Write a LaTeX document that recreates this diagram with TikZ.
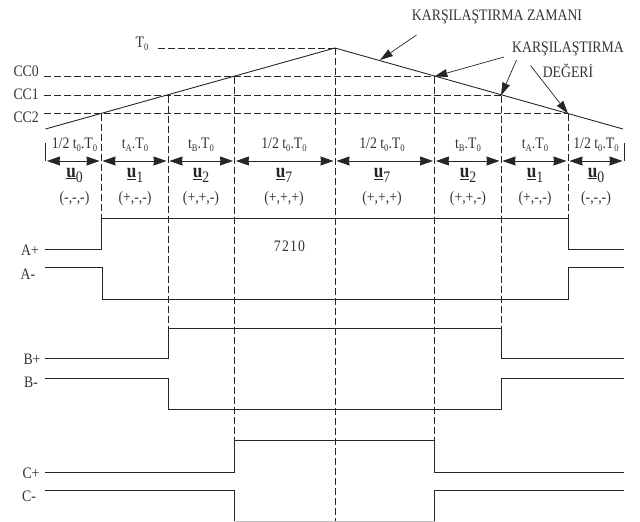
\documentclass[tikz,border=0pt]{standalone}
\usepackage{fontspec}
\setmainfont[FakeStretch=.86]{Liberation Serif}
\usetikzlibrary{arrows.meta}
\newcommand{\lowsub}[1]{\raisebox{-.45ex}{\fontsize{10}{10}\selectfont #1}}
\newcommand{\uvec}[1]{\underline{\textbf{u}}\raisebox{-5pt}{\fontsize{16}{16}\selectfont #1}}
\tikzstyle{lab} = [inner sep=0pt, font=\fontsize{16}{16}\selectfont, text=black!80]
\tikzstyle{dur} = [inner sep=0pt, font=\fontsize{16}{16}\selectfont, text=black!80]
\tikzstyle{vec} = [inner sep=0pt, font=\fontsize{20}{20}\selectfont, text=black!85, node distance=30pt]
\tikzstyle{sgn} = [inner sep=0pt, font=\fontsize{16}{16}\selectfont, text=black!80, node distance=24pt]
\tikzstyle{guide} = [black!85, line width=.7pt, dash pattern=on 7pt off 3pt]
\tikzstyle{wave} = [black!85, line width=.9pt]
\tikzstyle{spanline} = [black!85, line width=.9pt, shorten <=1.5pt, shorten >=1.5pt, {Stealth[length=13pt,width=9pt,inset=.5pt]}-{Stealth[length=13pt,width=9pt,inset=.5pt]}]
\tikzstyle{pointer} = [black!85, line width=.7pt, -{Stealth[length=13pt,width=8pt,inset=.5pt]}]
\begin{document}
\begin{tikzpicture}[x=1pt, y=-1pt]
  \useasboundingbox (0,0) rectangle (640,522);
  % triangle
  \coordinate (s) at (45.5,129);
  \coordinate (top) at (335,48);
  \coordinate (e) at (623,129);
  \coordinate (r2) at (101,113.5);
  \coordinate (r1) at (168,95.5);
  \coordinate (r0) at (234.5,76.5);
  \coordinate (f0) at (434.5,76.5);
  \coordinate (f1) at (501,95.5);
  \coordinate (f2) at (568,113.5);
  \draw[wave] (s)--(top)--(e);
  % levels
  \node (t0)[lab] at (142,44){T\lowsub{0}};
  \node (cc0)[lab, anchor=east] at (39,71){CC0};
  \node (cc1)[lab, anchor=east] at (39,94){CC1};
  \node (cc2)[lab, anchor=east] at (39,117){CC2};
  \coordinate (t0l) at (158,48);
  \coordinate (cc0l) at (44,76.5);
  \coordinate (cc1l) at (44,95.5);
  \coordinate (cc2l) at (44,113.5);
  \draw[guide] (t0l)--(top);
  \draw[guide] (cc0l)--(f0);
  \draw[guide] (cc1l)--(f1);
  \draw[guide] (cc2l)--(f2);
  % verticals
  \coordinate (a1) at (101,218);
  \coordinate (a2) at (568,218);
  \coordinate (b1) at (168,328);
  \coordinate (b2) at (501,328);
  \coordinate (c1) at (234.5,440.5);
  \coordinate (c2) at (434.5,440.5);
  \coordinate (m) at (335,522);
  \draw[guide] (r2)--(a1);
  \draw[guide] (r1)--(b1);
  \draw[guide] (r0)--(c1);
  \draw[guide] (top)--(m);
  \draw[guide] (f0)--(c2);
  \draw[guide] (f1)--(b2);
  \draw[guide] (f2)--(a2);
  % spans
  \coordinate (d0) at (45.5,161);
  \coordinate (d1) at (101,161);
  \coordinate (d2) at (168,161);
  \coordinate (d3) at (234.5,161);
  \coordinate (d4) at (335,161);
  \coordinate (d5) at (434.5,161);
  \coordinate (d6) at (501,161);
  \coordinate (d7) at (568,161);
  \coordinate (d8) at (624,161);
  \coordinate (tl) at (45.5,143);
  \coordinate (tr) at (624,143);
  \draw[black!85] (tl)--(d0);
  \draw[black!85] (tr)--(d8);
  \draw[spanline] (d0)--(d1);
  \draw[spanline] (d1)--(d2);
  \draw[spanline] (d2)--(d3);
  \draw[spanline] (d3)--(d4);
  \draw[spanline] (d4)--(d5);
  \draw[spanline] (d5)--(d6);
  \draw[spanline] (d6)--(d7);
  \draw[spanline] (d7)--(d8);
  % sectors
  \node (l1)[dur] at (74.5,145){1/2 t\lowsub{0}.T\lowsub{0}};
  \node (l2)[dur] at (135,145){t\lowsub{A}.T\lowsub{0}};
  \node (l3)[dur] at (201,145){t\lowsub{B}.T\lowsub{0}};
  \node (l4)[dur] at (284,145){1/2 t\lowsub{0}.T\lowsub{0}};
  \node (l5)[dur] at (382,145){1/2 t\lowsub{0}.T\lowsub{0}};
  \node (l6)[dur] at (468,145){t\lowsub{B}.T\lowsub{0}};
  \node (l7)[dur] at (535,145){t\lowsub{A}.T\lowsub{0}};
  \node (l8)[dur] at (596,145){1/2 t\lowsub{0}.T\lowsub{0}};
  \node (u1)[vec, below of=l1]{\uvec{0}};
  \node (u2)[vec, below of=l2]{\uvec{1}};
  \node (u3)[vec, below of=l3]{\uvec{2}};
  \node (u4)[vec, below of=l4]{\uvec{7}};
  \node (u5)[vec, below of=l5]{\uvec{7}};
  \node (u6)[vec, below of=l6]{\uvec{2}};
  \node (u7)[vec, below of=l7]{\uvec{1}};
  \node (u8)[vec, below of=l8]{\uvec{0}};
  \node (v1)[sgn, below of=u1]{(-,-,-)};
  \node (v2)[sgn, below of=u2]{(+,-,-)};
  \node (v3)[sgn, below of=u3]{(+,+,-)};
  \node (v4)[sgn, below of=u4]{(+,+,+)};
  \node (v5)[sgn, below of=u5]{(+,+,+)};
  \node (v6)[sgn, below of=u6]{(+,+,-)};
  \node (v7)[sgn, below of=u7]{(+,-,-)};
  \node (v8)[sgn, below of=u8]{(-,-,-)};
  % callouts
  \node (zaman)[lab] at (497,17){KARŞILAŞTIRMA ZAMANI};
  \node (deger)[lab] at (568,49){KARŞILAŞTIRMA};
  \node (deger2)[lab, below of=deger, node distance=22pt]{DEĞERİ};
  \coordinate (z1) at (416.5,35);
  \coordinate (z2) at (380,60);
  \coordinate (k1) at (504,57);
  \coordinate (k2) at (516.5,60);
  \coordinate (k3) at (530.5,65.5);
  \draw[pointer] (z1)--(z2);
  \draw[pointer] (k1)--(f0);
  \draw[pointer] (k2)--(f1);
  \draw[pointer] (k3)--(f2);
  % switching signals
  \node (ap)[lab] at (30,250){A+};
  \node (am)[lab] at (28,274){A-};
  \node (bp)[lab] at (32,359){B+};
  \node (bm)[lab] at (31,382){B-};
  \node (cp)[lab] at (31,473){C+};
  \node (cm)[lab] at (29,496){C-};
  \node (code)[lab] at (289.5,246){7\kern1.2pt2\kern1.2pt1\kern1.2pt0};
  \draw[wave] (45,249.5)-|(a1)--(a2)|-(624,249.5);
  \draw[wave] (45,267.5)-|(102,299)--(568,299)|-(624,267.5);
  \draw[wave] (45,358.5)-|(b1)--(b2)|-(624,358.5);
  \draw[wave] (45,378)-|(168,409.5)--(501,409.5)|-(624,378);
  \draw[wave] (45,472.5)-|(c1)--(c2)|-(624,472.5);
  \draw[wave] (45,490.5)-|(234.5,521);
  \draw[wave] (434.5,521)|-(624,490.5);
  \draw[black!25, line width=.9pt] (234.5,521)--(434.5,521);
\end{tikzpicture}
\end{document}
